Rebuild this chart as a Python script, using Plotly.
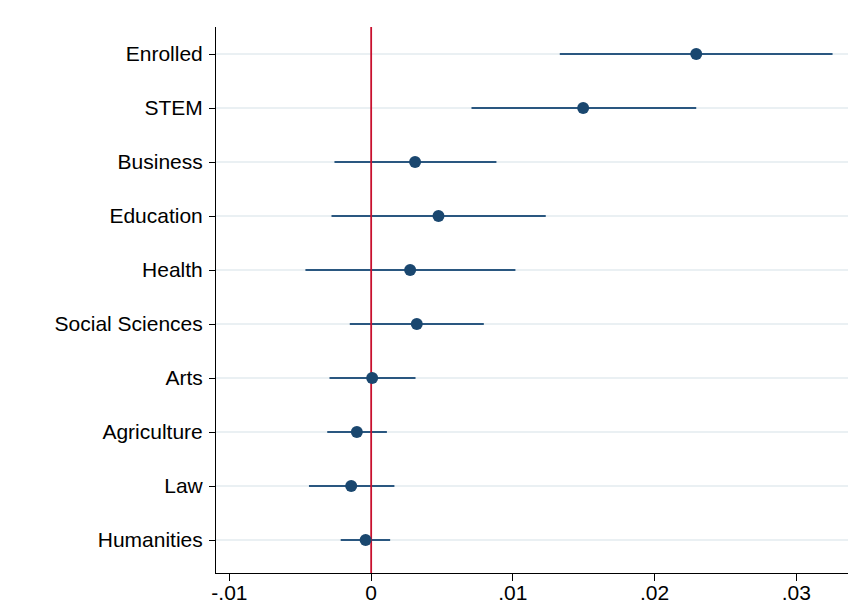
import plotly.graph_objects as go

# Fields of study, top to bottom
fields = ["Enrolled", "STEM", "Business", "Education", "Health",
          "Social Sciences", "Arts", "Agriculture", "Law", "Humanities"]
# Point estimates and 95% confidence bounds
estimate = [0.02294, 0.01496, 0.00310, 0.00475, 0.00275,
            0.00322, 0.00007, -0.00101, -0.00141, -0.00039]
ci_low = [0.01331, 0.00708, -0.00259, -0.00280, -0.00464,
          -0.00151, -0.00294, -0.00310, -0.00439, -0.00215]
ci_high = [0.03256, 0.02294, 0.00884, 0.01232, 0.01018,
           0.00795, 0.00313, 0.00111, 0.00164, 0.00134]

x_ticks = [-0.01, 0, 0.01, 0.02, 0.03]
x_tick_labels = ["-.01", "0", ".01", ".02", ".03"]

navy = "#1a476f"
line_col = "#2a5780"
red = "#c8102e"
font_family = "Liberation Sans, Arial, sans-serif"

n = len(fields)
y_range = [n - 1 + 33 / 54, -0.5]

fig = go.Figure()

# Confidence intervals (bottom layer)
fig.add_trace(go.Scatter(
    x=estimate,
    y=fields,
    mode="markers",
    marker=dict(size=1, color="rgba(0,0,0,0)"),
    error_x=dict(
        type="data",
        symmetric=False,
        array=[h - e for h, e in zip(ci_high, estimate)],
        arrayminus=[e - l for e, l in zip(estimate, ci_low)],
        color=line_col,
        thickness=2,
        width=0,
    ),
    showlegend=False,
    hoverinfo="skip",
))

# Reference line at zero, over the intervals
fig.add_trace(go.Scatter(
    x=[0, 0], y=[0, 1], yaxis="y2", mode="lines",
    line=dict(color=red, width=1.8),
    showlegend=False, hoverinfo="skip",
))

# Point estimates on top
fig.add_trace(go.Scatter(
    x=estimate, y=fields, yaxis="y3", mode="markers",
    marker=dict(size=12, color=navy),
    showlegend=False, hoverinfo="skip",
))

fig.update_layout(
    width=862, height=604,
    margin=dict(l=216, r=14, t=27, b=31),
    paper_bgcolor="white",
    plot_bgcolor="white",
    font=dict(family=font_family, size=21, color="#000000"),
    xaxis=dict(
        range=[-0.01095, 0.03365],
        tickvals=x_ticks,
        ticktext=x_tick_labels,
        showgrid=False,
        zeroline=False,
        showline=True,
        linecolor="#000000",
        linewidth=1,
        ticks="outside",
        ticklen=7,
        tickcolor="#000000",
        tickfont=dict(size=21),
        ticklabelstandoff=-6,
        automargin=False,
    ),
    yaxis=dict(
        type="category",
        categoryorder="array",
        categoryarray=fields,
        range=y_range,
        showgrid=True,
        gridcolor="#eaf0f3",
        gridwidth=2,
        zeroline=False,
        showline=True,
        linecolor="#000000",
        linewidth=1,
        ticks="outside",
        ticklen=6,
        tickcolor="#000000",
        tickfont=dict(size=21),
        ticklabelstandoff=2,
        automargin=False,
    ),
    yaxis2=dict(
        overlaying="y", range=[0, 1], visible=False, fixedrange=True,
    ),
    yaxis3=dict(
        overlaying="y", type="category", categoryorder="array",
        categoryarray=fields, range=y_range, visible=False,
    ),
)

fig.write_html("out.html")
